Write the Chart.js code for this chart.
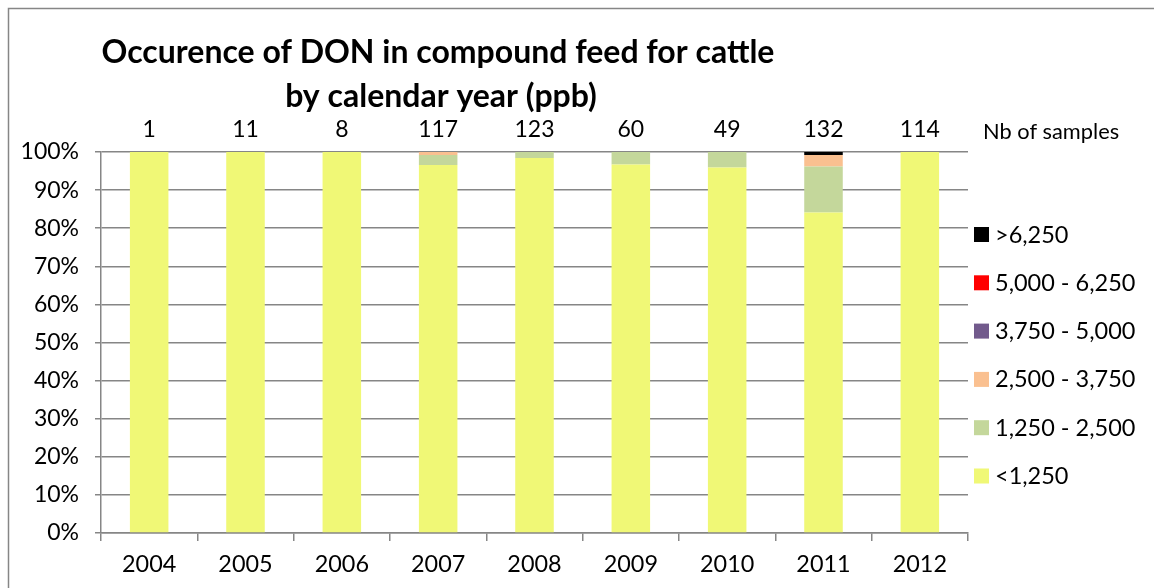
<!DOCTYPE html>
<html>
<head>
<meta charset="utf-8">
<script src="https://cdn.jsdelivr.net/npm/chart.js@4"></script>
<style>
  body { margin: 0; background: #fff; }
</style>
</head>
<body>
<canvas id="donChart" width="1154" height="588"></canvas>
<script>
let years = ["2004", "2005", "2006", "2007", "2008", "2009", "2010", "2011", "2012"];
let samples = [1, 11, 8, 117, 123, 60, 49, 132, 114];

// share of samples per class (%)
let below1250 = [100, 100, 100, 96.6, 98.4, 96.7, 95.9, 84.1, 100];
let from1250 = [0, 0, 0, 2.6, 1.6, 3.3, 4.1, 12.1, 0];
let from2500 = [0, 0, 0, 0.8, 0, 0, 0, 3.0, 0];
let from3750 = [0, 0, 0, 0, 0, 0, 0, 0, 0];
let from5000 = [0, 0, 0, 0, 0, 0, 0, 0, 0];
let above6250 = [0, 0, 0, 0, 0, 0, 0, 0.8, 0];

let classNames = ["<1,250", "1,250 - 2,500", "2,500 - 3,750", "3,750 - 5,000", "5,000 - 6,250", ">6,250"];
let classColors = ["#f0f876", "#c4d79b", "#fac090", "#725a8c", "#ff0000", "#000000"];
let classValues = [below1250, from1250, from2500, from3750, from5000, above6250];

let font = "Lato, 'Open Sans', sans-serif";
let gridColor = "#868686";

let extras = {
    id: "extras",
    beforeDraw(chart){
        let ctx = chart.ctx;
        ctx.save();
        ctx.fillStyle = "#fff";
        ctx.fillRect(0, 0, chart.width, chart.height);
        ctx.strokeStyle = gridColor;
        ctx.lineWidth = 1.5;
        ctx.strokeRect(8.5, 8.5, 1160, 620);
        ctx.restore();
    },
    afterDraw(chart){
        let ctx = chart.ctx;
        let x = chart.scales.x;
        ctx.save();
        ctx.fillStyle = "#000";

        // title
        ctx.font = "bold 32px " + font;
        ctx.textAlign = "center";
        ctx.textBaseline = "alphabetic";
        ctx.fillText("Occurence of DON in compound feed for cattle", 438, 63);
        ctx.fillText("by calendar year (ppb)", 441, 107);

        // number of samples above each bar
        ctx.font = "23px " + font;
        samples.forEach((n, i) => {
            ctx.fillText(String(n), x.getPixelForValue(i), 137);
        });
        ctx.textAlign = "left";
        ctx.font = "21.8px " + font;
        ctx.fillText("Nb of samples", 983, 139);

        // legend, top entry is the last class
        ctx.font = "23.5px " + font;
        ctx.textBaseline = "middle";
        let datasets = chart.data.datasets;
        for(let k = datasets.length - 1; k >= 0; k--){
            let row = datasets.length - 1 - k;
            let y = 234 + row * 48.3;
            ctx.fillStyle = datasets[k].backgroundColor;
            ctx.fillRect(974, y - 7, 15, 15);
            ctx.fillStyle = "#000";
            ctx.fillText(datasets[k].label, 995, y + 1);
        }
        ctx.restore();
    }
};

let ctx = document.getElementById("donChart");

new Chart(ctx, {
    type: "bar",
    data: {
        labels: years,
        datasets: classNames.map((name, i) => ({
            label: name,
            data: classValues[i],
            backgroundColor: classColors[i],
            borderWidth: 0,
            categoryPercentage: 1,
            barPercentage: 0.4
        }))
    },
    options: {
        responsive: false,
        animation: false,
        devicePixelRatio: 1,
        layout: { padding: { top: 152, right: 186, bottom: 0, left: 0 } },
        plugins: {
            legend: { display: false },
            tooltip: { enabled: false }
        },
        scales: {
            x: {
                stacked: true,
                afterFit(scale){ scale.height = 55; },
                grid: { offset: true, drawOnChartArea: false, drawTicks: true, tickLength: 8, color: gridColor, lineWidth: 1.5 },
                border: { color: gridColor, width: 1.5 },
                ticks: { color: "#000", font: { family: font, size: 23.4 }, padding: 9 }
            },
            y: {
                stacked: true,
                min: 0,
                max: 100,
                afterFit(scale){ scale.width = 101; },
                grid: { color: gridColor, lineWidth: 1.5, tickLength: 6 },
                border: { color: gridColor, width: 1.5 },
                ticks: { stepSize: 10, color: "#000", font: { family: font, size: 23 }, padding: 16, callback: v => v + "%" }
            }
        }
    },
    plugins: [extras]
});
</script>
</body>
</html>
